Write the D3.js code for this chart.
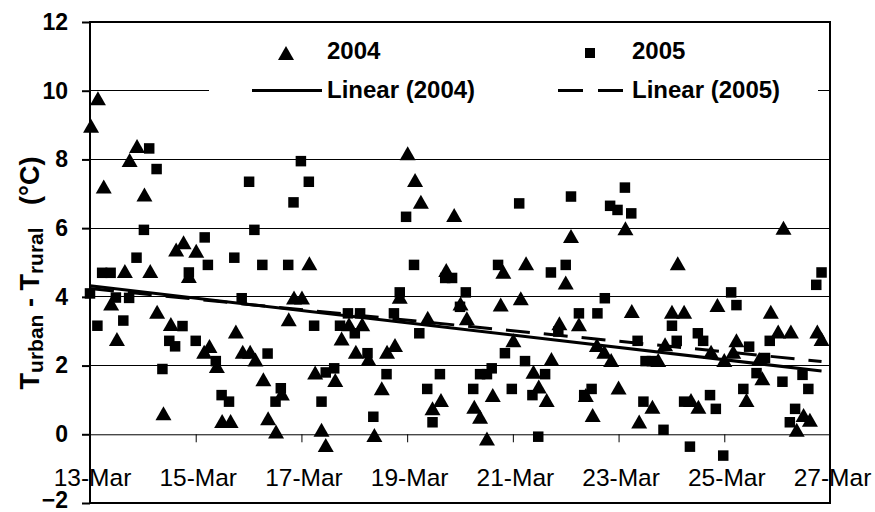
<!DOCTYPE html>
<html><head><meta charset="utf-8">
<script src="https://cdn.jsdelivr.net/npm/d3@7"></script>
<style>html,body{margin:0;padding:0;background:#fff;} svg{display:block;}</style>
</head><body>
<svg id="chart" width="875" height="512"></svg>
<script>
// ---- data (days after 13-Mar, temperature difference °C) ----
const dayLabels = ["13-Mar","15-Mar","17-Mar","19-Mar","21-Mar","23-Mar","25-Mar","27-Mar"];
const tickDays = [0,2,4,6,8,10,12,14];
const yTicks = [-2,0,2,4,6,8,10,12];
const gridVals = [2,4,6,8,10];
const seriesNames = ["2004","2005"];
const trendNames = ["Linear (2004)","Linear (2005)"];

const days2004 = [0.15,0.02,0.89,0.75,0.26,1.03,1.77,1.63,2.01,0.66,1.14,1.87,0.40,1.27,1.53,0.51,2.16,1.39,
4.15,3.86,4.01,3.76,2.76,2.26,2.89,3.03,3.13,2.40,3.28,4.26,3.63,3.37,3.52,2.50,2.66,4.38,4.46,
6.01,6.15,6.26,6.74,5.86,6.39,5.15,4.90,4.76,5.03,5.27,5.62,5.77,4.64,5.52,6.48,6.64,5.38,
6.89,9.10,7.82,8.25,9.00,7.01,7.77,8.15,7.13,8.88,8.01,8.73,8.39,8.49,8.64,7.62,7.27,7.38,7.51,
10.13,11.12,9.25,10.25,11.01,11.24,9.59,9.73,9.86,10.88,10.75,10.00,9.38,9.51,10.64,10.39,
13.12,11.87,12.88,13.02,13.26,13.76,13.84,12.23,11.75,12.00,12.17,12.66,12.72,12.42,11.37,11.51,13.50,13.62,13.37];
const vals2004 = [9.78,8.98,8.39,7.98,7.21,6.98,5.59,5.38,5.34,4.75,4.75,4.61,3.81,3.57,3.21,2.77,2.40,0.61,
4.98,3.98,3.98,3.35,2.99,2.57,2.40,2.40,2.18,1.99,1.60,1.80,1.19,0.47,0.08,0.39,0.39,0.13,-0.31,
8.18,7.40,6.77,4.78,4.00,3.39,3.20,3.20,2.79,2.40,2.19,2.40,2.60,1.58,1.34,0.76,1.00,-0.02,
6.38,5.77,4.73,4.98,4.42,3.81,3.78,3.96,3.38,3.23,2.74,2.19,1.82,1.39,1.00,1.14,0.80,0.51,-0.12,
6.00,4.98,3.20,3.59,3.57,3.57,2.60,2.40,2.16,2.62,2.16,1.36,1.14,0.56,0.80,0.37,
6.01,3.76,3.57,2.99,2.99,2.99,2.77,2.74,2.40,2.16,2.40,2.19,1.63,1.00,1.00,0.80,0.56,0.42,0.13];

const days2005 = [1.12,1.26,1.02,2.17,0.88,0.23,0.39,2.23,1.87,0.00,0.49,0.74,0.14,0.63,1.75,1.50,1.61,2.00,1.37,
3.99,3.01,4.14,3.85,3.11,2.73,3.26,3.75,2.87,4.24,3.36,2.38,4.46,2.49,2.63,3.61,3.51,4.38,
5.98,6.13,6.72,6.85,5.86,5.75,4.88,5.11,4.73,5.01,6.23,5.25,4.62,5.61,6.62,6.38,5.36,6.48,
8.12,9.10,7.72,8.72,9.00,7.11,7.00,8.86,7.85,8.23,7.60,7.38,7.51,8.61,7.25,7.98,8.37,8.48,
10.12,9.84,9.98,10.24,9.74,9.25,9.60,11.01,10.36,11.10,10.63,10.51,9.49,9.35,10.47,10.85,11.24,11.35,
13.84,13.74,12.13,12.23,11.50,11.60,12.47,12.86,12.77,12.61,13.10,13.48,13.59,12.36,11.73,11.84,13.34,13.24,11.98];
const vals2005 = [8.32,7.72,5.95,5.73,5.14,4.70,4.70,4.93,4.71,4.10,3.98,3.97,3.16,3.31,3.15,2.72,2.56,2.72,1.90,
7.95,7.35,7.35,6.75,5.95,5.14,4.93,4.93,3.96,3.16,2.35,2.13,1.80,1.14,0.95,1.34,0.95,0.95,
6.33,4.93,4.55,4.55,4.13,3.52,3.52,3.52,3.16,2.94,2.94,2.36,1.92,1.75,1.75,1.32,0.51,0.35,
6.72,6.92,4.93,4.71,4.93,4.13,3.71,2.99,2.36,2.13,1.92,1.75,1.75,1.75,1.32,1.32,1.14,-0.07,
7.18,6.65,6.53,6.43,3.96,3.52,3.52,3.16,2.72,2.72,2.13,2.13,1.32,1.14,0.95,0.13,0.95,-0.36,
4.71,4.35,4.13,3.76,2.94,2.72,2.55,2.72,2.22,1.78,1.53,1.73,1.32,1.32,1.14,0.74,0.74,0.35,-0.62];

// linear trend endpoints
const trendDays = [0, 13.84];
const trend2004 = [4.32, 1.84];
const trend2005 = [4.24, 2.12];

// ---- drawing ----
const font = "'Liberation Sans', Arial, Helvetica, sans-serif";
const svg = d3.select("#chart");
const L = 90, R = 830, T = 22, B = 503;
const x = d3.scaleLinear().domain([0,14]).range([L,R]);
const y = d3.scaleLinear().domain([-2,12]).range([B,T]);

// gridlines
svg.append("g").selectAll("line").data(gridVals).join("line")
  .attr("x1",L).attr("x2",R).attr("y1",d=>y(d)).attr("y2",d=>y(d))
  .attr("stroke","#000").attr("stroke-width",1).attr("shape-rendering","crispEdges");

// x axis on y=0
const xAxis = svg.append("g").attr("transform",`translate(0,${y(0)})`)
  .call(d3.axisBottom(x).tickValues(tickDays).tickSize(8).tickSizeOuter(0).tickPadding(26)
    .tickFormat((d,i)=>dayLabels[i]));
xAxis.select(".domain").attr("stroke","#000").attr("stroke-width",1);
xAxis.selectAll(".tick line").attr("stroke","#000").attr("stroke-width",1);
xAxis.selectAll(".tick text").attr("font-family",font).attr("font-size",24.5).attr("fill","#000")
  .attr("dx",2);

// y axis
const yAxis = svg.append("g").attr("transform",`translate(${L},0)`)
  .call(d3.axisLeft(y).tickValues(yTicks).tickSize(8).tickSizeOuter(0).tickPadding(14));
yAxis.select(".domain").remove();
yAxis.selectAll(".tick line").attr("stroke","#000").attr("stroke-width",2);
yAxis.selectAll(".tick text").attr("font-family",font).attr("font-size",23)
  .attr("font-weight","bold").attr("fill","#000")
  .attr("dy",d=>d===-2?"0.2em":"0.32em");

// frame
svg.append("rect").attr("x",L).attr("y",T).attr("width",R-L).attr("height",B-T)
  .attr("fill","none").attr("stroke","#000").attr("stroke-width",2);

// legend
const lg = svg.append("g");
lg.append("rect").attr("x",209).attr("y",28).attr("width",609).attr("height",88).attr("fill","#fff");
const tri = (cx,cy)=>`M${cx},${cy-7}L${cx+8},${cy+7}L${cx-8},${cy+7}Z`;
lg.append("path").attr("d",tri(286,53)).attr("fill","#000");
lg.append("rect").attr("x",585).attr("y",48).attr("width",10).attr("height",10).attr("fill","#000");
lg.append("line").attr("x1",252).attr("x2",322).attr("y1",90.5).attr("y2",90.5)
  .attr("stroke","#000").attr("stroke-width",3);
lg.append("line").attr("x1",558).attr("x2",623).attr("y1",90.5).attr("y2",90.5)
  .attr("stroke","#000").attr("stroke-width",3).attr("stroke-dasharray","25,15");
const lgText = [[327,59,seriesNames[0]],[632,59,seriesNames[1]],[327,98,trendNames[0]],[632,98,trendNames[1]]];
lg.selectAll("text").data(lgText).join("text")
  .attr("x",d=>d[0]).attr("y",d=>d[1]).text(d=>d[2])
  .attr("font-family",font).attr("font-size",24).attr("font-weight","bold").attr("fill","#000");

// trend lines
const line = d3.line().x(d=>x(d[0])).y(d=>y(d[1]));
svg.append("path").datum(trendDays.map((d,i)=>[d,trend2004[i]])).attr("d",line)
  .attr("fill","none").attr("stroke","#000").attr("stroke-width",3);
svg.append("path").datum(trendDays.map((d,i)=>[d,trend2005[i]])).attr("d",line)
  .attr("fill","none").attr("stroke","#000").attr("stroke-width",3).attr("stroke-dasharray","24,14");

// markers
const d2004 = days2004.map((d,i)=>[d,vals2004[i]]);
const d2005 = days2005.map((d,i)=>[d,vals2005[i]]);
svg.append("g").selectAll("path").data(d2004).join("path")
  .attr("d",d=>tri(x(d[0]),y(d[1]))).attr("fill","#000");
svg.append("g").selectAll("rect").data(d2005).join("rect")
  .attr("x",d=>x(d[0])-5.25).attr("y",d=>y(d[1])-5.25).attr("width",10.5).attr("height",10.5).attr("fill","#000");

// y-axis title
const yt = svg.append("text").attr("transform","translate(39,273) rotate(-90)")
  .attr("text-anchor","middle").attr("font-family",font).attr("font-weight","bold")
  .attr("font-size",27).attr("fill","#000").attr("xml:space","preserve");
yt.append("tspan").text("T");
yt.append("tspan").attr("font-size",21).attr("dy",4).text("urban");
yt.append("tspan").attr("dy",-4).text(" - T");
yt.append("tspan").attr("font-size",21).attr("dy",4).text("rural");
yt.append("tspan").attr("dy",-4).text("   (°C)");
</script>
</body></html>
